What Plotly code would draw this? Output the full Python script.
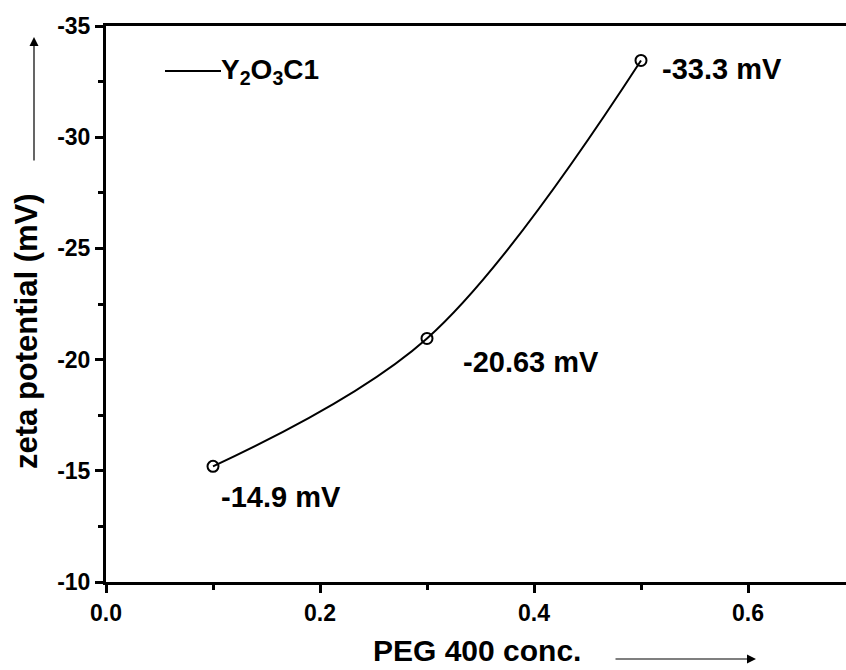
import plotly.graph_objects as go

# Data
peg_conc = [0.1, 0.3, 0.5]
zeta = [-15.2, -20.95, -33.45]
point_labels = ["-14.9 mV", "-20.63 mV", "-33.3 mV"]
label_shift_x = [7, 35, 20]
label_shift_y = [-31, -24, -9]
series_name = "Y<sub>2</sub>O<sub>3</sub>C1"
x_ticks = [0.0, 0.2, 0.4, 0.6]
y_ticks = [-35, -30, -25, -20, -15, -10]

FONT = "Arial, 'Liberation Sans', sans-serif"

W, H = 846, 670
L, R, T, B = 106, 0, 26, 88
pw, ph = W - L - R, H - T - B

def px(xp):
    return (xp - L) / pw

def py(yp):
    return (H - B - yp) / ph

def bold(s):
    return f"<b>{s}</b>"

fig = go.Figure()
fig.add_trace(go.Scatter(
    x=peg_conc, y=zeta, mode="lines", line=dict(color="black", width=2, shape="spline", smoothing=1.0),
    showlegend=False, hoverinfo="skip"))
fig.add_trace(go.Scatter(
    x=peg_conc, y=zeta, mode="markers",
    marker=dict(symbol="circle-open", size=11, color="black", line=dict(width=2)),
    showlegend=False))

for xv, yv, lab, sx, sy in zip(peg_conc, zeta, point_labels, label_shift_x, label_shift_y):
    fig.add_annotation(x=xv, y=yv, xref="x", yref="y", text=bold(lab), showarrow=False,
                       xanchor="left", yanchor="middle", xshift=sx - 1, yshift=sy,
                       font=dict(family=FONT, size=29, color="black"))

# legend (manual)
fig.add_shape(type="line", xref="paper", yref="paper", x0=px(165), x1=px(221), y0=py(71), y1=py(71),
              line=dict(color="black", width=2))
fig.add_annotation(xref="paper", yref="paper", x=px(219), y=py(71), text=bold(series_name), showarrow=False,
                   xanchor="left", yanchor="middle",
                   font=dict(family=FONT, size=28, color="black"))

# axis titles
fig.add_annotation(xref="paper", yref="paper", x=px(27), y=py(331), text=bold("zeta potential (mV)"),
                   textangle=-90, showarrow=False, xanchor="center", yanchor="middle",
                   font=dict(family=FONT, size=31, color="black"))
fig.add_annotation(xref="paper", yref="paper", x=px(477), y=py(650), text=bold("PEG 400 conc."),
                   showarrow=False, xanchor="center", yanchor="middle",
                   font=dict(family=FONT, size=30, color="black"))
# arrows
fig.add_annotation(xref="paper", yref="paper", x=px(34), y=py(37), ax=0, ay=125, text="",
                   showarrow=True, arrowhead=2, arrowsize=1.5, arrowwidth=1.2, arrowcolor="black")
fig.add_annotation(xref="paper", yref="paper", x=px(756), y=py(659), ax=-142, ay=0, text="",
                   showarrow=True, arrowhead=2, arrowsize=1.5, arrowwidth=1.2, arrowcolor="black")

tickfont = dict(family=FONT, size=23, color="black")
fig.update_xaxes(range=[0, pw / 1070.0], tickvals=x_ticks, ticktext=[bold(f"{v:.1f}") for v in x_ticks],
                 ticks="outside", ticklen=8, tickwidth=3, tickcolor="black",
                 showline=True, linewidth=3, linecolor="black", mirror=True,
                 showgrid=False, zeroline=False, tickfont=tickfont,
                 minor=dict(ticks="outside", ticklen=5, tickwidth=3, tickcolor="black", dtick=0.1, tick0=0,
                            showgrid=False))
fig.update_yaxes(range=[-10, -35], tickvals=y_ticks, ticktext=[bold(str(v)) for v in y_ticks],
                 ticks="outside", ticklen=8, tickwidth=3, tickcolor="black",
                 showline=True, linewidth=3, linecolor="black", mirror=False,
                 showgrid=False, zeroline=False, tickfont=tickfont,
                 minor=dict(ticks="outside", ticklen=5, tickwidth=3, tickcolor="black", dtick=2.5, tick0=-10,
                            showgrid=False))

fig.update_layout(width=W, height=H, margin=dict(l=L, r=R, t=T, b=B),
                  plot_bgcolor="white", paper_bgcolor="white", showlegend=False)

fig.write_html("out.html")
